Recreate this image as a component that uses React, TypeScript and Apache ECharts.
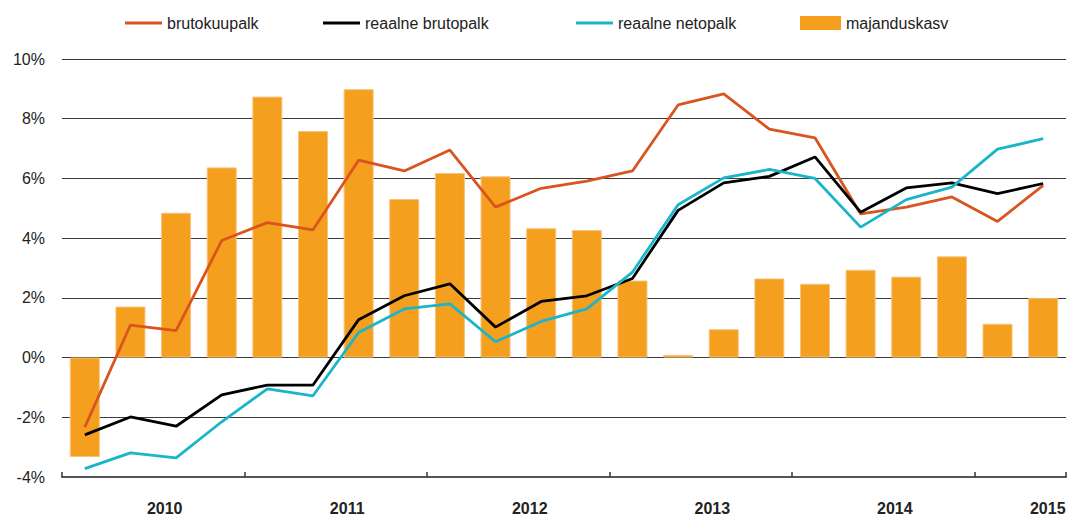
import React, { useEffect, useRef } from "react";
import * as echarts from "echarts";

const quarters = [
  "2010 Q1", "2010 Q2", "2010 Q3", "2010 Q4",
  "2011 Q1", "2011 Q2", "2011 Q3", "2011 Q4",
  "2012 Q1", "2012 Q2", "2012 Q3", "2012 Q4",
  "2013 Q1", "2013 Q2", "2013 Q3", "2013 Q4",
  "2014 Q1", "2014 Q2", "2014 Q3", "2014 Q4",
  "2015 Q1", "2015 Q2",
];

const majanduskasv = [
  -3.33, 1.71, 4.85, 6.37, 8.74, 7.59, 8.99, 5.31, 6.18, 6.07, 4.33, 4.27,
  2.58, 0.09, 0.95, 2.65, 2.47, 2.94, 2.71, 3.39, 1.13, 2.0,
];

const brutokuupalk = [
  -2.33, 1.09, 0.9, 3.92, 4.52, 4.28, 6.61, 6.25, 6.95, 5.04, 5.67, 5.91,
  6.25, 8.46, 8.83, 7.65, 7.36, 4.81, 5.04, 5.38, 4.56, 5.77,
];

const reaalneBrutopalk = [
  -2.59, -1.99, -2.3, -1.25, -0.92, -0.92, 1.27, 2.07, 2.47, 1.02, 1.88, 2.07,
  2.65, 4.93, 5.85, 6.07, 6.72, 4.87, 5.68, 5.85, 5.49, 5.83,
];

const reaalneNetopalk = [
  -3.72, -3.19, -3.36, -2.15, -1.05, -1.28, 0.84, 1.63, 1.8, 0.53, 1.21, 1.63,
  2.86, 5.12, 6.02, 6.3, 6.0, 4.37, 5.29, 5.71, 6.98, 7.33,
];

const yearLabels = ["2010", "2011", "2012", "2013", "2014", "2015"];
const yearLabelAt = [2.25, 6.25, 10.25, 14.25, 18.25, 21.6];

const yMin = -4;
const yMax = 10;
const yStep = 2;

const FONT = "'Liberation Sans', Arial, Helvetica, sans-serif";

const COL_BRUTO = "#D9541E";
const COL_REAL_BRUTO = "#000000";
const COL_REAL_NETO = "#1BB5C9";
const COL_GDP = "#F4A01E";

export default function App() {
  const ref = useRef<HTMLDivElement>(null);

  useEffect(() => {
    if (!ref.current) return;
    const chart = echarts.init(ref.current, undefined, { renderer: "svg" });

    const legendBase = {
      top: 10,
      itemGap: 0,
      textStyle: { fontSize: 16, color: "#222", fontFamily: FONT },
      selectedMode: false as const,
    };

    chart.setOption({
      animation: false,
      backgroundColor: "#fff",
      textStyle: { fontFamily: FONT },
      legend: [
        {
          ...legendBase,
          left: 120,
          itemWidth: 37,
          itemHeight: 3,
          data: [{ name: "brutokuupalk", icon: "rect", itemStyle: { color: COL_BRUTO } }],
        },
        {
          ...legendBase,
          left: 318,
          itemWidth: 37,
          itemHeight: 3,
          data: [{ name: "reaalne brutopalk", icon: "rect", itemStyle: { color: COL_REAL_BRUTO } }],
        },
        {
          ...legendBase,
          left: 571,
          itemWidth: 37,
          itemHeight: 3,
          data: [{ name: "reaalne netopalk", icon: "rect", itemStyle: { color: COL_REAL_NETO } }],
        },
        {
          ...legendBase,
          left: 795,
          itemWidth: 41,
          itemHeight: 14,
          data: [
            {
              name: "majanduskasv",
              icon: "rect",
              itemStyle: { color: COL_GDP, borderWidth: 0 },
            },
          ],
        },
      ],
      grid: { left: 62, right: 5, top: 59, bottom: 40, containLabel: false },
      xAxis: [
        {
          type: "category",
          data: quarters,
          boundaryGap: true,
          axisLine: { onZero: false, lineStyle: { color: "#555", width: 2 } },
          axisTick: {
            show: true,
            inside: true,
            length: 5,
            interval: (index: number) => index % 4 === 0,
            lineStyle: { color: "#333", width: 1.5 },
          },
          axisLabel: { show: false },
          splitLine: { show: false },
        },
        {
          type: "value",
          min: 0,
          max: quarters.length,
          position: "bottom",
          axisLine: { show: false },
          axisTick: { show: false },
          splitLine: { show: false },
          axisLabel: {
            show: true,
            customValues: yearLabelAt,
            formatter: (v: number) => {
              const i = yearLabelAt.indexOf(v);
              return i >= 0 ? yearLabels[i] : "";
            },
            fontSize: 16,
            fontWeight: "bold",
            color: "#222",
            margin: 23,
            fontFamily: FONT,
          },
        },
      ],
      yAxis: {
        type: "value",
        min: yMin,
        max: yMax,
        interval: yStep,
        axisLine: { show: false },
        axisTick: { show: false },
        axisLabel: {
          formatter: (v: number) => `${v}%`,
          fontSize: 16,
          color: "#222",
          margin: 17,
          fontFamily: FONT,
        },
        splitLine: { show: true, lineStyle: { color: "#3a3a3a", width: 1 } },
      },
      series: [
        {
          name: "majanduskasv",
          type: "bar",
          data: majanduskasv,
          barWidth: 30,
          itemStyle: { color: COL_GDP, borderColor: "#F8C27A", borderWidth: 1 },
          z: 1,
        },
        {
          name: "brutokuupalk",
          type: "line",
          data: brutokuupalk,
          symbol: "none",
          lineStyle: { color: COL_BRUTO, width: 2.8 },
          itemStyle: { color: COL_BRUTO },
          z: 3,
        },
        {
          name: "reaalne brutopalk",
          type: "line",
          data: reaalneBrutopalk,
          symbol: "none",
          lineStyle: { color: COL_REAL_BRUTO, width: 2.8 },
          itemStyle: { color: COL_REAL_BRUTO },
          z: 3,
        },
        {
          name: "reaalne netopalk",
          type: "line",
          data: reaalneNetopalk,
          symbol: "none",
          lineStyle: { color: COL_REAL_NETO, width: 2.8 },
          itemStyle: { color: COL_REAL_NETO },
          z: 3,
        },
      ],
    });

    return () => chart.dispose();
  }, []);

  return (
    <div
      ref={ref}
      style={{ position: "fixed", left: 0, top: 0, width: 1071, height: 517 }}
    />
  );
}
